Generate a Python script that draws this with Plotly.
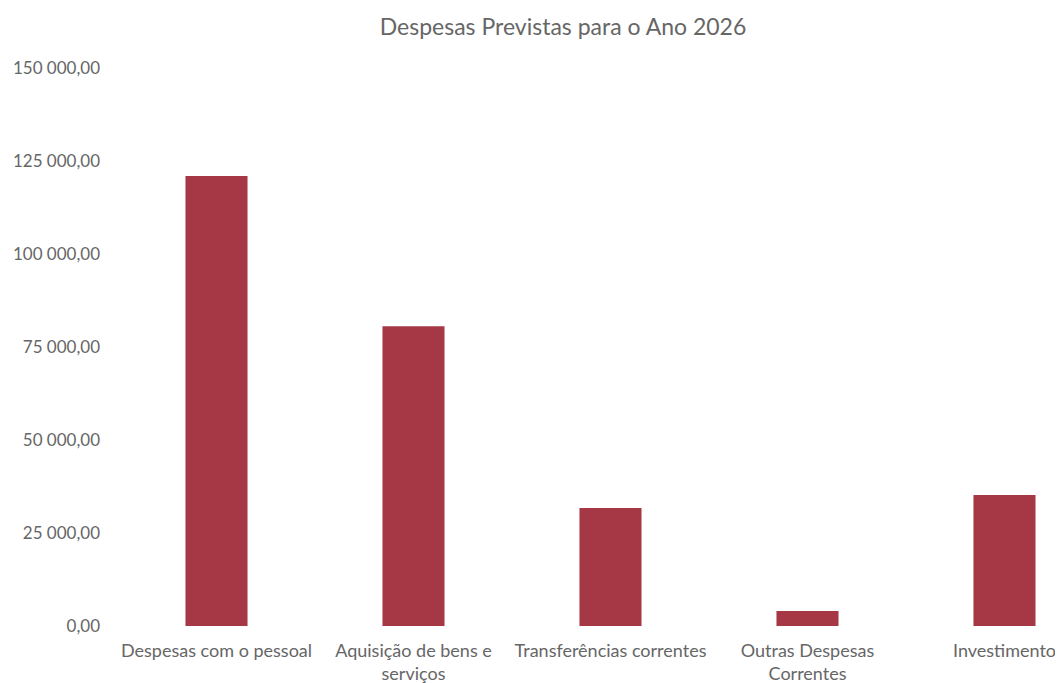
import plotly.graph_objects as go

categories = ["Despesas com o pessoal", "Aquisição de bens e<br>serviços", "Transferências correntes",
              "Outras Despesas<br>Correntes", "Investimento"]
values = [121000, 80600, 31700, 4000, 35200]
tick_vals = [0, 25000, 50000, 75000, 100000, 125000, 150000]
tick_text = ["0,00", "25 000,00", "50 000,00", "75 000,00", "100 000,00", "125 000,00", "150 000,00"]

# page body has an 8px margin, so the figure is shrunk/offset accordingly
fig = go.Figure(go.Bar(x=list(range(len(categories))), y=values, marker_color="#A63845",
                       marker_line_width=0, width=0.315))
fig.update_layout(
    width=1055, height=675,
    margin=dict(l=110, r=0, t=60, b=57),
    paper_bgcolor="white", plot_bgcolor="white",
    font=dict(family="Lato, Open Sans, sans-serif", size=17, color="#666666"),
    title=dict(text="Despesas Previstas para o Ano 2026", x=555/1055, xanchor="center",
               y=1-19/675, yanchor="middle", font=dict(size=23, color="#666666")),
    showlegend=False,
    bargap=0.685,
)
fig.update_xaxes(range=[-0.5, 4.297], tickmode="array", tickvals=list(range(len(categories))),
                 ticktext=categories, showgrid=False, zeroline=False, showline=False, ticks="",
                 ticklabelstandoff=12, automargin=False,
                 tickfont=dict(size=18, color="#666666"))
fig.update_yaxes(range=[0, 150000], tickmode="array", tickvals=tick_vals, ticktext=tick_text,
                 showgrid=False, zeroline=False, showline=False, ticks="",
                 ticklabelstandoff=17, automargin=False, tickfont=dict(size=17, color="#666666"))
fig.write_html("out.html")
